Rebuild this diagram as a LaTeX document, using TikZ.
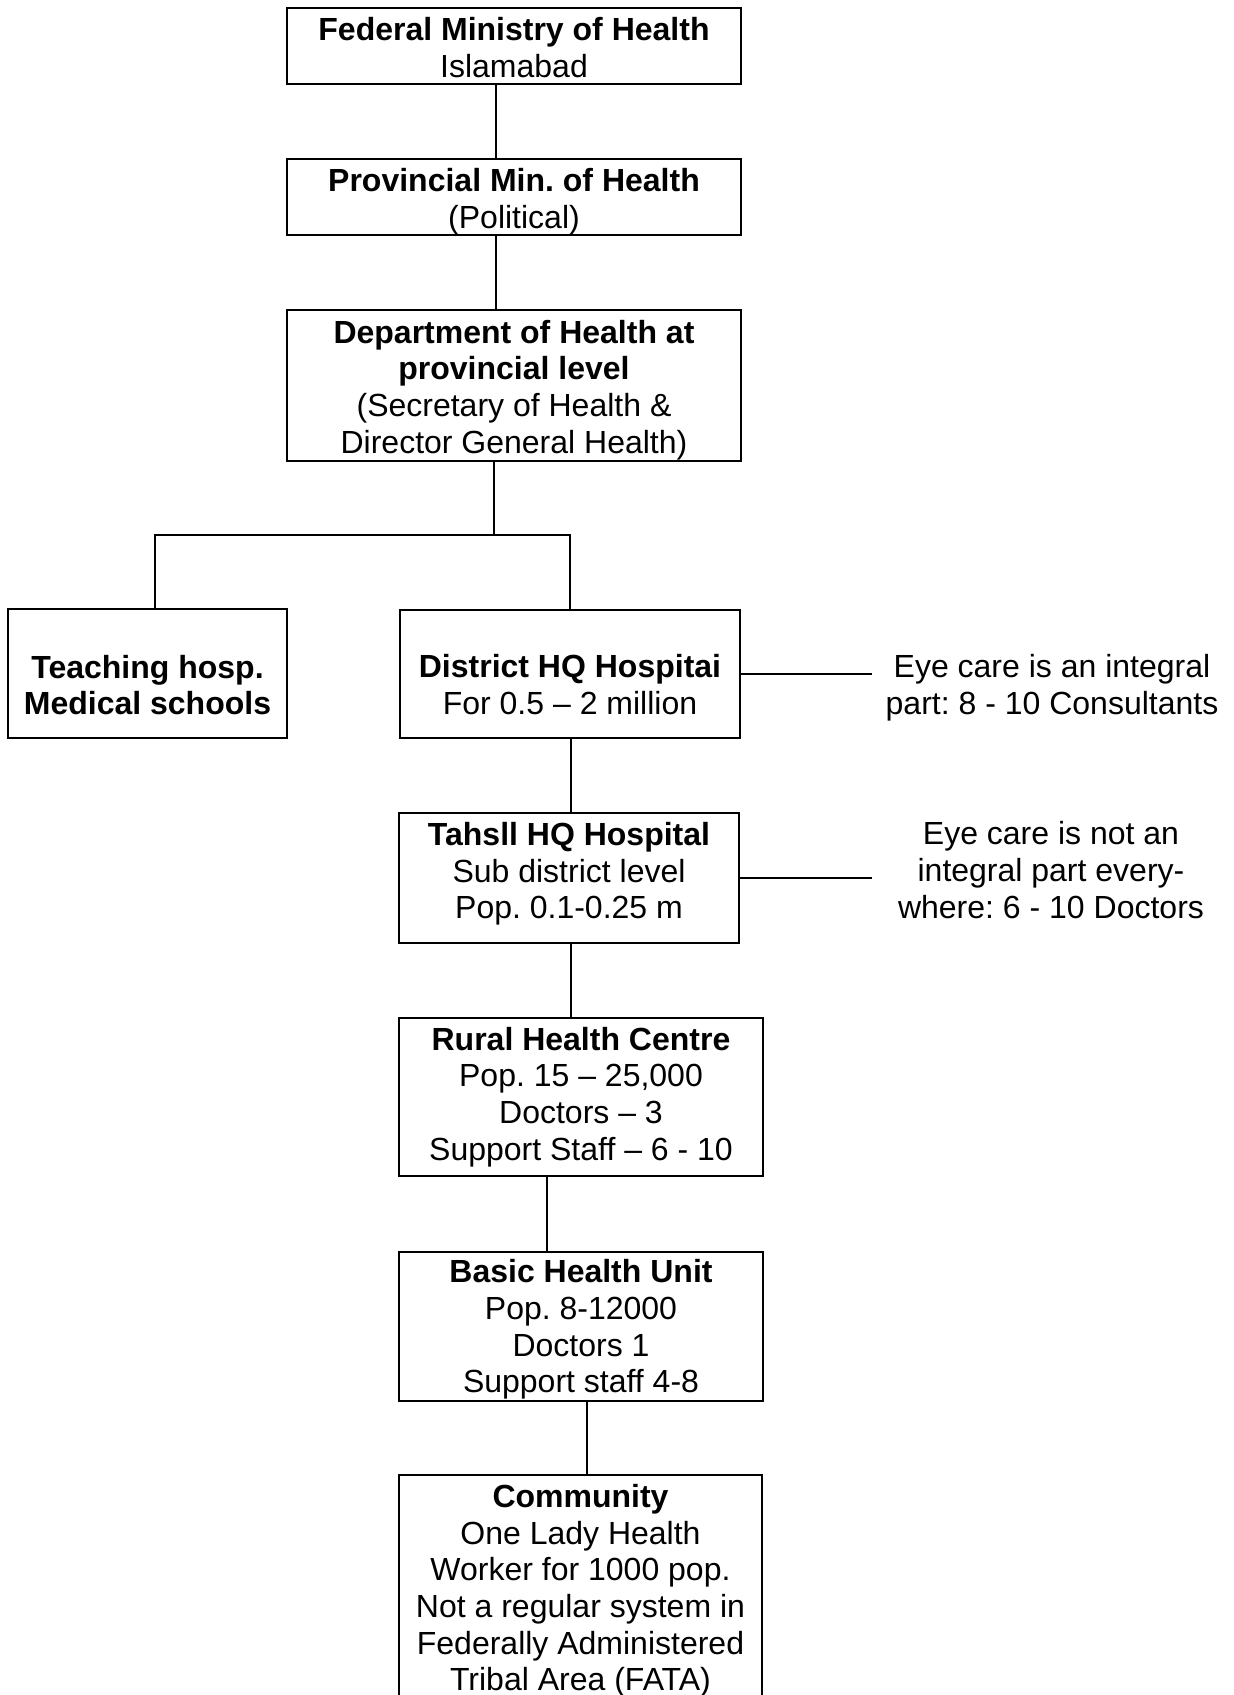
\documentclass[tikz,border=0pt]{standalone}
\usepackage{fontspec}
\setmainfont{Liberation Sans}
% text block lowered by #1 inside its box, box extent unchanged
\newcommand\boxlines[2]{\raisebox{#1}[\height][\depth]{\begin{tabular}{@{}c@{}}#2\end{tabular}}}
\begin{document}
\begin{tikzpicture}[x=1pt,y=-1pt,
  every node/.style={font=\fontsize{32}{36.7}\selectfont\frenchspacing, align=center, inner sep=0pt},
  box/.style={draw, line width=1.6pt, rectangle},
  conn/.style={line width=1.6pt, line join=miter},
  note/.style={inner xsep=20pt}]
\useasboundingbox (0,0) rectangle (1234,1695);
\clip (0,0) rectangle (1234,1695);

% boxes
\node[box, minimum width=454pt, minimum height=76pt] (fed) at (514,46)
  {\boxlines{-6pt}{\textbf{Federal Ministry of Health}\\Islamabad}};
\node[box, minimum width=454pt, minimum height=76pt] (prov) at (514,197)
  {\boxlines{-5.5pt}{\textbf{Provincial Min. of Health}\\(Political)}};
\node[box, minimum width=454pt, minimum height=151pt] (dept) at (514,385.5)
  {\boxlines{-5.4pt}{\textbf{Department of Health at}\\\textbf{provincial level}\\(Secretary of Health \&\\Director General Health)}};
\node[box, minimum width=279pt, minimum height=129pt] (teach) at (147.5,673.5)
  {\boxlines{-15.5pt}{\textbf{Teaching hosp.}\\\textbf{Medical schools}}};
\node[box, minimum width=340pt, minimum height=128pt] (dist) at (570,674)
  {\boxlines{-14.7pt}{\textbf{District HQ Hospitai}\\For 0.5 – 2 million}};
\node[box, minimum width=340pt, minimum height=130pt] (tahsil) at (569,878)
  {\boxlines{3.3pt}{\textbf{Tahsll HQ Hospital}\\Sub district level\\Pop. 0.1-0.25 m}};
\node[box, minimum width=364pt, minimum height=158pt] (rural) at (581,1097)
  {\boxlines{-0.7pt}{\textbf{Rural Health Centre}\\Pop. 15 – 25,000\\Doctors – 3\\Support Staff – 6 - 10}};
\node[box, minimum width=364pt, minimum height=149pt] (bhu) at (581,1326.5)
  {\boxlines{-3.9pt}{\textbf{Basic Health Unit}\\Pop. 8-12000\\Doctors 1\\Support staff 4-8}};
\node[box, minimum width=363pt, minimum height=225pt] (comm) at (580.5,1587.5)
  {\boxlines{-4.2pt}{\textbf{Community}\\One Lady Health\\Worker for 1000 pop.\\Not a regular system in\\Federally Administered\\Tribal Area (FATA)}};

% side notes
\node[note] (eye1) at (1052,688.5) {\boxlines{0pt}{Eye care is an integral\\part: 8 - 10 Consultants}};
\node[note] (eye2) at (1051,874) {\boxlines{0pt}{Eye care is not an\\integral part every-\\where: 6 - 10 Doctors}};

% connector x positions
\coordinate (c1) at (496,0);
\coordinate (br) at (494,535);
\coordinate (bl) at (155,535);
\coordinate (brr) at (570,535);
\coordinate (c4) at (571,0);
\coordinate (c5) at (547,0);
\coordinate (c6) at (587,0);
\coordinate (ce) at (872,0);

\draw[conn] (fed.south -| c1) -- (prov.north -| c1);
\draw[conn] (prov.south -| c1) -- (dept.north -| c1);
\draw[conn] (dept.south -| br) -- (br);
\draw[conn] (teach.north -| bl) -- (bl) -- (brr) -- (dist.north -| brr);
\draw[conn] (dist.south -| c4) -- (tahsil.north -| c4);
\draw[conn] (tahsil.south -| c4) -- (rural.north -| c4);
\draw[conn] (rural.south -| c5) -- (bhu.north -| c5);
\draw[conn] (bhu.south -| c6) -- (comm.north -| c6);
\draw[conn] (dist.east) -- (dist.east -| ce);
\draw[conn] (tahsil.east) -- (tahsil.east -| ce);
\end{tikzpicture}
\end{document}
